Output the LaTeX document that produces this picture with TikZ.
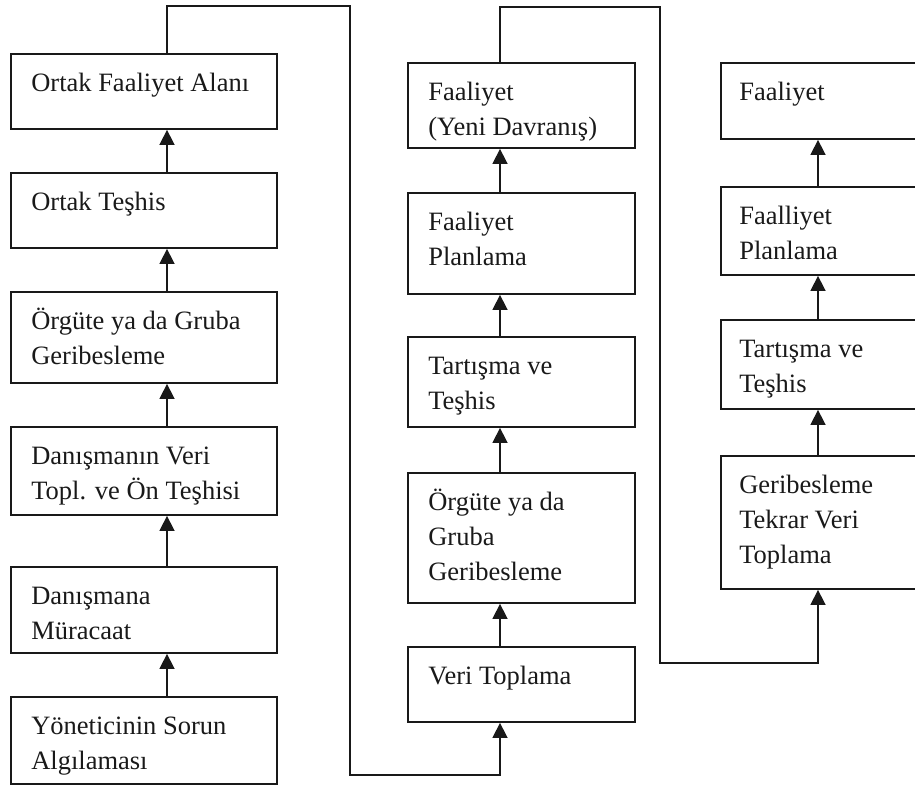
\documentclass[tikz,border=0pt]{standalone}
\usepackage{fontspec}
\setmainfont{Liberation Serif}
\usetikzlibrary{arrows.meta,calc}

% box given by left, top, right, bottom (y grows downward)
\newcommand\mkbox[5]{%
  \node[box, minimum width={#4-#2}, minimum height={#5-#3}] (#1) at ({(#2+#4)/2},{(#3+#5)/2}) {};}
% text block hung from the top-left corner of a box
\newcommand\mktext[4]{%
  \node[txt] (#1) at ([shift={(#3,13.5)}]#2.north west) {\strut #4};}

\begin{document}
\begin{tikzpicture}[x=1pt, y=-1pt,
  ink/.style={draw=black!90},
  box/.style={ink, rectangle, line width=1.8pt, inner sep=0pt},
  txt/.style={anchor=north west, inner sep=0pt, align=left, text=black!90,
              font=\fontsize{26.5}{35}\selectfont},
  wire/.style={ink, line width=1.6pt},
  arr/.style={wire, -{Triangle[width=15pt,length=15pt]}}]

\clip (0,0) rectangle (915,785);

% left column
\mkbox{L1}{11}{54}{277}{129}
\mkbox{L2}{11}{173}{277}{248}
\mkbox{L3}{11}{292}{277}{383}
\mkbox{L4}{11}{427}{277}{515}
\mkbox{L5}{11}{567}{277}{653}
\mkbox{L6}{11}{697}{277}{784}
\mktext{L1t}{L1}{21}{Ortak Faaliyet Alanı}
\mktext{L2t}{L2}{21}{Ortak Teşhis}
\mktext{L3t}{L3}{21}{Örgüte ya da Gruba\\Geribesleme}
\mktext{L4t}{L4}{21}{Danışmanın Veri\\Topl. ve Ön Teşhisi}
\mktext{L5t}{L5}{21}{Danışmana\\Müracaat}
\mktext{L6t}{L6}{21}{Yöneticinin Sorun\\Algılaması}

% middle column
\mkbox{M1}{408}{63}{635}{148}
\mkbox{M2}{408}{193}{635}{294}
\mkbox{M3}{408}{337}{635}{427}
\mkbox{M4}{408}{473}{635}{603}
\mkbox{M5}{408}{647}{635}{722}
\mktext{M1t}{M1}{21}{Faaliyet\\(Yeni Davranış)}
\mktext{M2t}{M2}{21}{Faaliyet\\Planlama}
\mktext{M3t}{M3}{21}{Tartışma ve\\Teşhis}
\mktext{M4t}{M4}{21}{Örgüte ya da\\Gruba\\Geribesleme}
\mktext{M5t}{M5}{21}{Veri Toplama}

% right column (runs past the right edge)
\mkbox{R1}{721}{63}{940}{139}
\mkbox{R2}{721}{187}{940}{275}
\mkbox{R3}{721}{320}{940}{409}
\mkbox{R4}{721}{456}{940}{589}
\mktext{R1t}{R1}{19}{Faaliyet}
\mktext{R2t}{R2}{19}{Faalliyet\\Planlama}
\mktext{R3t}{R3}{19}{Tartışma ve\\Teşhis}
\mktext{R4t}{R4}{19}{Geribesleme\\Tekrar Veri\\Toplama}

% connector columns and loop corners
\coordinate (ax) at (167,0);
\coordinate (mx) at (500,0);
\coordinate (rx) at (818,0);
\coordinate (c1) at (350,6);
\coordinate (c2) at (350,775);
\coordinate (c3) at (660,7);
\coordinate (c4) at (660,663);

% upward arrows inside each column
\draw[arr] (L6.north -| ax) -- (L5.south -| ax);
\draw[arr] (L5.north -| ax) -- (L4.south -| ax);
\draw[arr] (L4.north -| ax) -- (L3.south -| ax);
\draw[arr] (L3.north -| ax) -- (L2.south -| ax);
\draw[arr] (L2.north -| ax) -- (L1.south -| ax);

\draw[arr] (M5.north -| mx) -- (M4.south -| mx);
\draw[arr] (M4.north -| mx) -- (M3.south -| mx);
\draw[arr] (M3.north -| mx) -- (M2.south -| mx);
\draw[arr] (M2.north -| mx) -- (M1.south -| mx);

\draw[arr] (R4.north -| rx) -- (R3.south -| rx);
\draw[arr] (R3.north -| rx) -- (R2.south -| rx);
\draw[arr] (R2.north -| rx) -- (R1.south -| rx);

% loops carrying one cycle into the next
\draw[arr] (L1.north -| ax) |- (c1) -- (c2) -| (M5.south -| mx);
\draw[arr] (M1.north -| mx) |- (c3) -- (c4) -| (R4.south -| rx);

\end{tikzpicture}
\end{document}
